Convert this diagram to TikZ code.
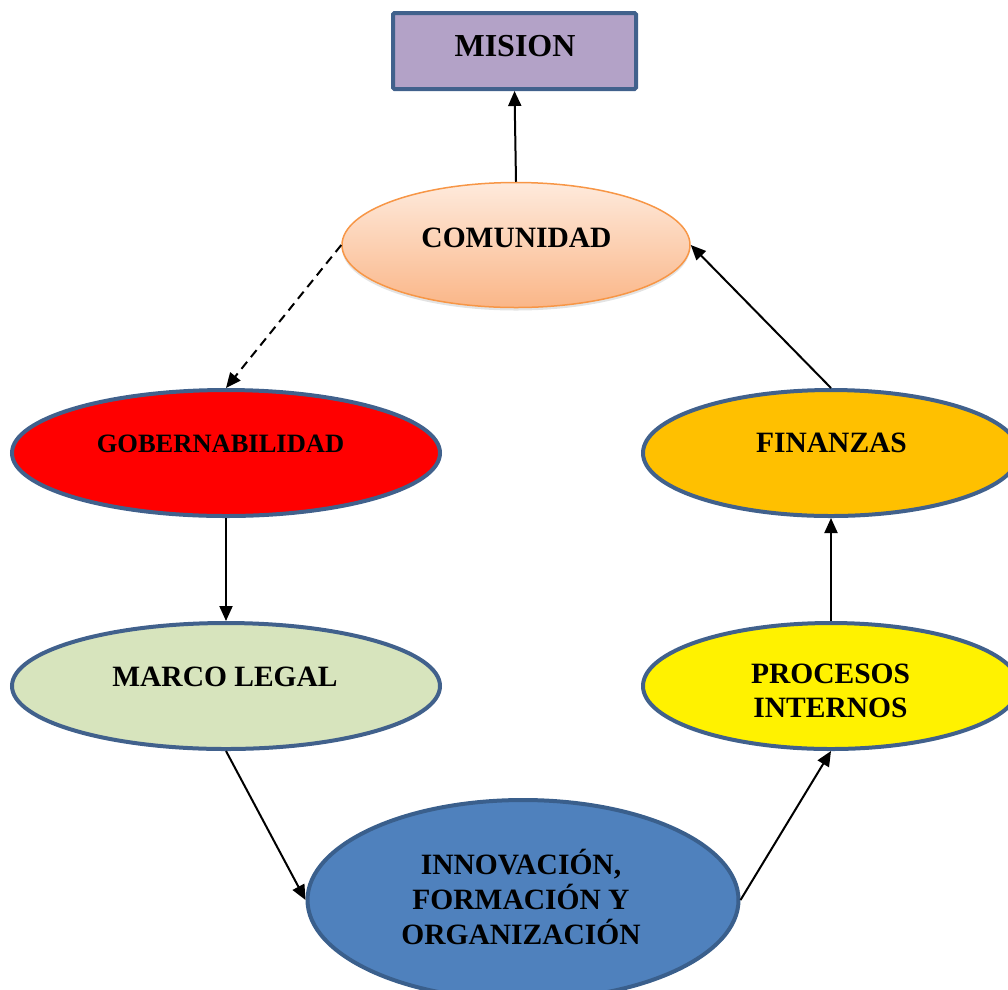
\documentclass[tikz,border=0pt]{standalone}
\usepackage{fontspec}
\setmainfont{Liberation Serif}
\usetikzlibrary{shapes.geometric,arrows.meta,shadows}
\definecolor{frameblue}{HTML}{41618C}
\definecolor{misionfill}{HTML}{B3A2C7}
\definecolor{comborder}{HTML}{F79646}
\definecolor{comtop}{HTML}{FEEADC}
\definecolor{combottom}{HTML}{FAB688}
\definecolor{finfill}{HTML}{FFC000}
\definecolor{marcofill}{HTML}{D7E4BD}
\definecolor{innofill}{HTML}{4F81BD}
\definecolor{innoborder}{HTML}{3A5F8C}
\begin{document}
\begin{tikzpicture}[x=1pt,y=-1pt,
  lbl/.style={font=\fontsize{29.5}{35}\selectfont\bfseries, align=center, text=black, inner sep=0pt},
  oval/.style={ellipse, draw=frameblue, line width=4pt, inner sep=0pt},
  link/.style={line width=2pt, -{Triangle[length=15pt,width=13pt]}}
]
\useasboundingbox (0,0) rectangle (1008,989);

% top box
\node[draw=frameblue, line width=4pt, fill=misionfill, minimum width=243pt,
      minimum height=76pt, inner sep=0pt, rounded corners=1.5pt]
      (mision) at (514.5,51) {};
\node[lbl, font=\fontsize{32}{36}\selectfont\bfseries] (misiontxt) at (515,46) {MISION};

% shaded oval
\node[ellipse, draw=comborder, line width=1.5pt, top color=comtop, bottom color=combottom,
      minimum width=348pt, minimum height=125pt, inner sep=0pt,
      drop shadow={opacity=0.22, shadow xshift=0pt, shadow yshift=-3pt}]
      (comunidad) at (516,245) {};
\node[lbl] (comunidadtxt) at (516.5,238) {COMUNIDAD};

% side ovals
\node[oval, fill=red, minimum width=428pt, minimum height=126pt] (gober) at (226,453) {};
\node[lbl, font=\fontsize{26.5}{30}\selectfont\bfseries] (gobertxt) at (220.5,444) {GOBERNABILIDAD};

\node[oval, fill=finfill, minimum width=376pt, minimum height=126pt] (finanzas) at (831,453) {};
\node[lbl] (finanzastxt) at (831.5,442.5) {FINANZAS};

\node[oval, fill=marcofill, minimum width=428pt, minimum height=126pt] (marco) at (226,686) {};
\node[lbl] (marcotxt) at (225,677) {MARCO LEGAL};

\node[oval, fill=yellow, minimum width=376pt, minimum height=126pt] (procesos) at (831,686) {};
\node[lbl, font=\fontsize{29.5}{34}\selectfont\bfseries] (procesostxt) at (830.5,690.5) {PROCESOS\\INTERNOS};

% bottom oval
\node[oval, draw=innoborder, fill=innofill, minimum width=431pt, minimum height=200pt]
      (innov) at (523,900) {};
\node[lbl] (innovtxt) at (521,896.5) {INNOVACIÓN,\\FORMACIÓN Y\\ORGANIZACIÓN};

% connectors
\draw[link] (comunidad.north) -- (mision.south);
\draw[link, dash pattern=on 9pt off 6pt] (comunidad.west) -- (gober.north);
\draw[link] (gober.south) -- (marco.north);
\draw[link] (marco.south) -- (innov.west);
\draw[link] (innov.east) -- (procesos.south);
\draw[link] (procesos.north) -- (finanzas.south);
\draw[link] (finanzas.north) -- (comunidad.east);
\end{tikzpicture}
\end{document}
